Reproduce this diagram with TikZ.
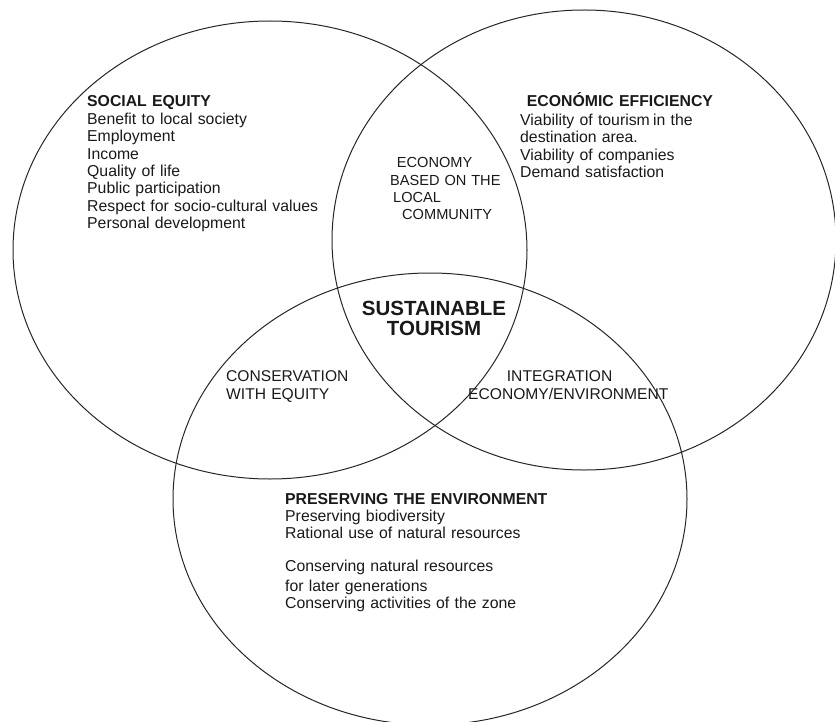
\documentclass[tikz,border=0pt]{standalone}
\usepackage{fontspec}
\setmainfont{Liberation Sans}
\tikzset{
	label/.style={inner sep=0pt, anchor=base west, align=left, text width=300pt, text=black!90, font=\fontsize{15.8}{17.4}\selectfont},
	zone/.style={label, font=\fontsize{15.6}{17.6}\selectfont},
	core/.style={label, font=\fontsize{14.6}{17.3}\selectfont}
}
\begin{document}
\begin{tikzpicture}[x=1pt, y=-1pt]
			\useasboundingbox (0,0) rectangle (835,722);

			\foreach \cx/\cy/\rx/\ry in {270/250/257/229, 584/240/252/230, 430/499/257/226}
			{
				\draw [black!85, line width=1pt] (\cx,\cy) ellipse [x radius=\rx pt, y radius=\ry pt];
			}

			\node [label] (social) at (87,107) {\textbf{SOCIAL EQUITY}\\
				Benefit to local society\\ Employment\\ Income\\ Quality of life\\
				Public participation\\ Respect for socio-cultural values\\ Personal development};
			\node [label] (econ_head) at (526.7,107) {\textbf{ECONÓMIC EFFICIENCY}};
			\node [label] (econ) at (520,125.5) {Viability of tourism\hspace{-2pt} in the\\
				destination area.\\ Viability of companies\\ Demand satisfaction};
			\node [label] (env) at (285,504) {\textbf{PRESERVING THE ENVIRONMENT}\\
				Preserving biodiversity\\ Rational use of natural resources\\[15pt]
				Conserving natural resources\\[2.4pt] for later generations\\ Conserving activities of the zone};

			\node [core] (local) at (390,168) {\hspace*{6.7pt}ECONOMY\\ BASED ON THE\\
				\hspace*{3pt}LOCAL\\ \hspace*{12pt}COMMUNITY};
			\node [zone] (equity) at (226,381.7) {CONSERVATION\\ WITH EQUITY};
			\node [zone] (integr) at (468,381.7) {\hspace*{38.7pt}INTEGRATION\\ ECONOMY/ENVIRONMENT};
			\node [label, anchor=base, align=center, text width=200pt, font=\bfseries\fontsize{20.5}{20}\selectfont] (st) at (434,315) {SUSTAINABLE\\ TOURISM};
		\end{tikzpicture}
\end{document}
